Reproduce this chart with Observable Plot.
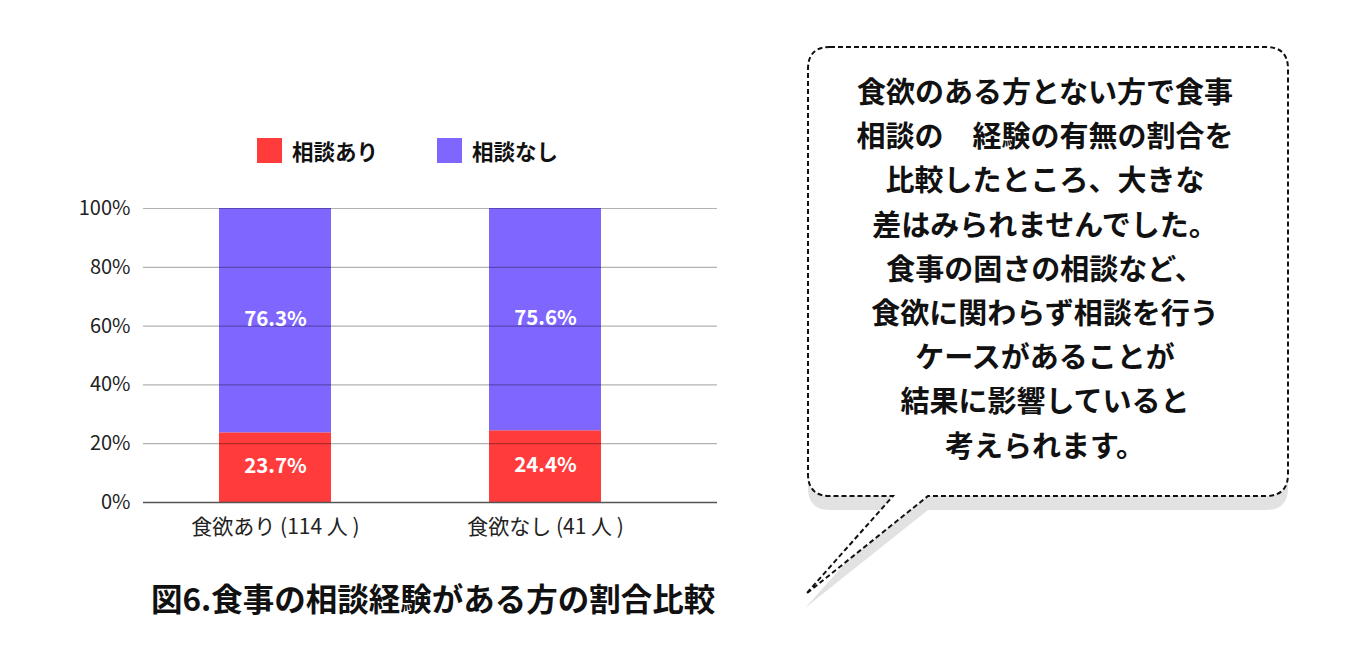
<!DOCTYPE html>
<html>
<head>
<meta charset="utf-8">
<script src="https://cdn.jsdelivr.net/npm/d3@7"></script>
<script src="https://cdn.jsdelivr.net/npm/@observablehq/plot@0.6"></script>
<style>
  html, body { margin: 0; padding: 0; background: #fff; }
  #root { position: relative; width: 1360px; height: 653px; overflow: hidden; font-family: "Noto Sans CJK JP", "Noto Sans", sans-serif; }
  #chart { position: absolute; left: 0; top: 0; }
  .legend { position: absolute; top: 138px; display: flex; align-items: center; font-weight: bold; font-size: 21.5px; line-height: 25px; color: #111; }
  .legend .sw { width: 25px; height: 25px; margin-right: 10px; }
  #caption { position: absolute; left: 151px; top: 575px; font-weight: bold; font-size: 31.5px; line-height: 44px; color: #111; white-space: nowrap; }
  #bubble { position: absolute; left: 0; top: 0; }
</style>
</head>
<body>
<div id="root">
  <div id="chart"></div>
  <div id="legend"></div>
  <div id="caption"></div>
  <svg id="bubble" width="1360" height="653"></svg>
</div>
<script>
// ---- data ----
const groups = ["食欲あり (114 人 )", "食欲なし (41 人 )"];
const seriesNames = ["相談あり", "相談なし"];
const consultYes = [23.7, 24.4];
const consultNo = [76.3, 75.6];
const yTicks = [0, 20, 40, 60, 80, 100];
const seriesColors = ["#ff3b3b", "#7f66ff"];
const captionText = "図6.食事の相談経験がある方の割合比較";
const bubbleLines = [
  "食欲のある方とない方で食事",
  "相談の　経験の有無の割合を",
  "比較したところ、大きな",
  "差はみられませんでした。",
  "食事の固さの相談など、",
  "食欲に関わらず相談を行う",
  "ケースがあることが",
  "結果に影響していると",
  "考えられます。"
];

// ---- table ----
const rows = [];
groups.forEach((g, i) => {
  rows.push({group: g, series: seriesNames[0], value: consultYes[i]});
  rows.push({group: g, series: seriesNames[1], value: consultNo[i]});
});

const W = 760, H = 540;
const chart = Plot.plot({
  width: W,
  height: H,
  marginLeft: 143,
  marginRight: 43,
  marginTop: 208,
  marginBottom: 38,
  style: {fontFamily: "\"Noto Sans CJK JP\", sans-serif", fontSize: "18px", color: "#333", background: "transparent"},
  x: {type: "band", domain: groups, range: [140, 680], paddingInner: 0.585, paddingOuter: 0.2925, align: 0.5, label: null},
  y: {domain: [0, 100], label: null},
  color: {domain: seriesNames, range: seriesColors},
  marks: [
    Plot.barY(rows, Plot.stackY({x: "group", y: "value", fill: "series", order: seriesNames})),
    Plot.ruleY(yTicks.filter(d => d > 0), {stroke: "#000", strokeOpacity: 0.3, strokeWidth: 1.2}),
    Plot.ruleY([0], {stroke: "#555", strokeWidth: 1.3}),
    Plot.text(rows, Plot.stackY({x: "group", y: "value", z: "series", order: seriesNames,
      text: d => d.value.toFixed(1) + "%", fill: "white", fontWeight: "bold", fontSize: 20.5, dy: -1})),
    Plot.axisY({ticks: yTicks, tickFormat: d => d + "%", tickSize: 0, tickPadding: 13, fontSize: 20, fill: "#222", label: null}),
    Plot.axisX({tickSize: 0, tickPadding: 17, fontSize: 21, fill: "#222", label: null})
  ]
});
document.getElementById("chart").appendChild(chart);

// ---- legend ----
const legendX = [257, 437];
const legend = d3.select("#legend");
seriesNames.forEach((s, i) => {
  const item = legend.append("div").attr("class", "legend").style("left", legendX[i] + "px");
  item.append("div").attr("class", "sw").style("background", seriesColors[i]);
  item.append("span").text(s);
});

// ---- caption ----
document.getElementById("caption").textContent = captionText;

// ---- speech bubble ----
const svg = d3.select("#bubble");
const L = 808, R = 1288, T = 47, B = 496, r = 22;
const tail = [[928, B], [806, 594], [893, B]];
function bubblePath(dx, dy, tip) {
  const p = d3.path();
  p.moveTo(L + r + dx, T + dy);
  p.lineTo(R - r + dx, T + dy);
  p.quadraticCurveTo(R + dx, T + dy, R + dx, T + r + dy);
  p.lineTo(R + dx, B - r + dy);
  p.quadraticCurveTo(R + dx, B + dy, R - r + dx, B + dy);
  p.lineTo(tail[0][0] + dx, tail[0][1] + dy);
  p.lineTo(tip[0], tip[1]);
  p.lineTo(tail[2][0] + dx, tail[2][1] + dy);
  p.lineTo(L + r + dx, B + dy);
  p.quadraticCurveTo(L + dx, B + dy, L + dx, B - r + dy);
  p.lineTo(L + dx, T + r + dy);
  p.quadraticCurveTo(L + dx, T + dy, L + r + dx, T + dy);
  p.closePath();
  return p.toString();
}
svg.append("path").attr("d", bubblePath(0, 14, [805, 608])).attr("fill", "#e2e2e2");
svg.append("path").attr("d", bubblePath(0, 0, tail[1])).attr("fill", "#fff")
  .attr("stroke", "#111").attr("stroke-width", 2).attr("stroke-dasharray", "5,3");
const lineY0 = 90, lineStep = 44.2;
svg.append("g")
  .attr("font-family", "\"Noto Sans CJK JP\", sans-serif")
  .attr("font-weight", "bold").attr("font-size", 29).attr("fill", "#111")
  .attr("text-anchor", "middle")
  .selectAll("text").data(bubbleLines).join("text")
  .attr("x", 1045).attr("y", (d, i) => lineY0 + i * lineStep)
  .attr("dominant-baseline", "central")
  .text(d => d);
</script>
</body>
</html>
